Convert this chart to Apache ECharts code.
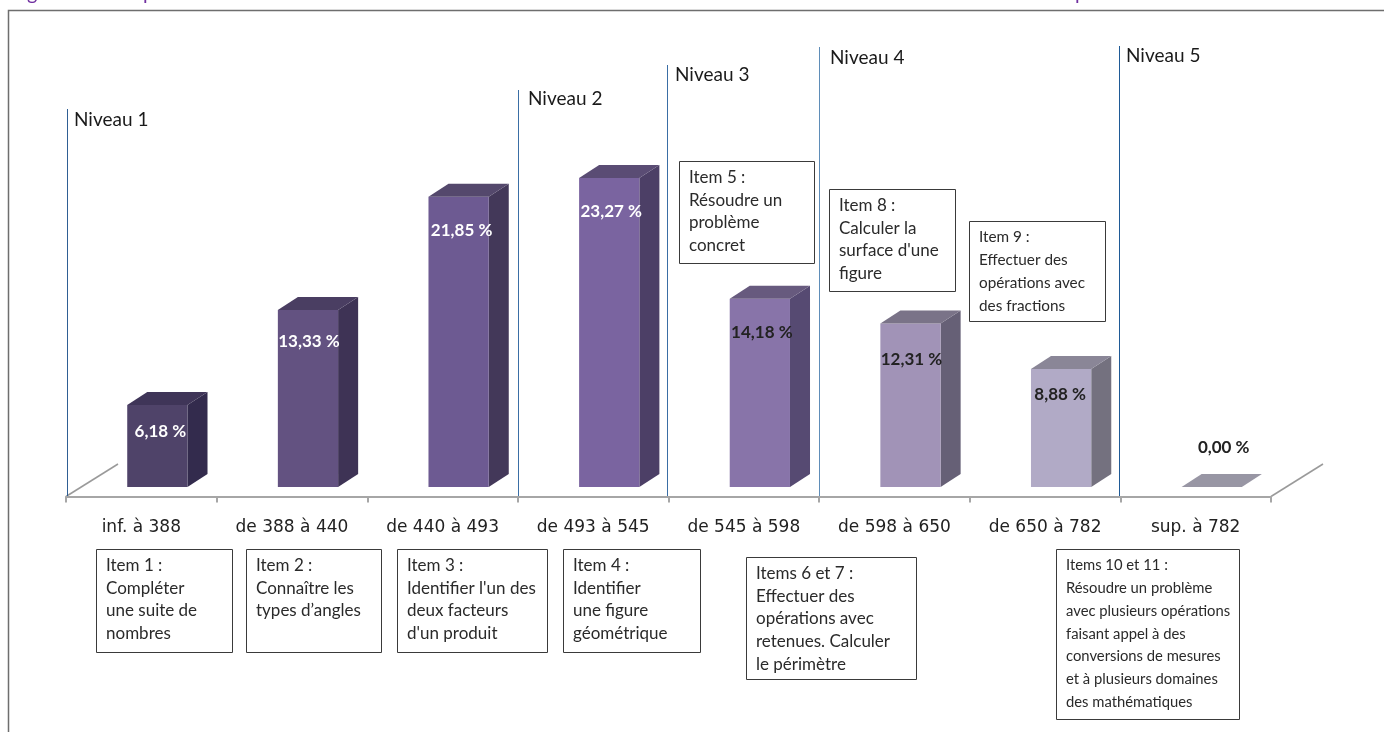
<!DOCTYPE html>
<html><head><meta charset="utf-8">
<style>html,body{margin:0;padding:0;background:#fff;overflow:hidden}#c{width:1384px;height:732px}</style>
<script src="https://cdn.jsdelivr.net/npm/echarts@6/dist/echarts.min.js"></script>
</head><body><div id="c"></div>
<script>
const categories = ['inf. à 388','de 388 à 440','de 440 à 493','de 493 à 545','de 545 à 598','de 598 à 650','de 650 à 782','sup. à 782'];
const values = [6.18,13.33,21.85,23.27,14.18,12.31,8.88,0];
const valueLabels = ['6,18 %','13,33 %','21,85 %','23,27 %','14,18 %','12,31 %','8,88 %','0,00 %'];
const frontColors = ['#4f4369','#635281','#6d5a92','#7a64a0','#8874a9','#a193b7','#b1aac6','#9896a4'];
const sideColors = ['#332b4d','#3e3355','#433859','#4c3f66','#564a72','#666076','#74717f','#9896a4'];
const topColors = ['#3f3558','#4a3e62','#54486c','#5a4c74','#675a7e','#7a7388','#8a8697','#9896a4'];
const labelColors = ['#fff','#fff','#fff','#fff','#222','#222','#222','#222'];
const labelDy = [27,32,34,34,34,36,25,-39];
const labelDx = [3,1,3,2,2,1,-1,12];
const levels = ['Niveau 1','Niveau 2','Niveau 3','Niveau 4','Niveau 5'];
const levelX = [67.5,518.5,667.5,819.5,1119.5];
const levelTop = [109,90,65,47,46];
const levelColors = ['#2f5f94','#3a6ea5','#3a6ea5','#5f8db8','#1f5a96'];
const levelTextX = [74,528,675,830,1126];
const levelTextY = [120,99,75,58,56];
const items = [
 ['Item 1 :','Compléter','une suite de','nombres'],
 ['Item 2 :','Connaître les','types d’angles'],
 ['Item 3 :','Identifier l\'un des','deux facteurs','d\'un produit'],
 ['Item 4 :','Identifier','une figure','géométrique'],
 ['Item 5 :','Résoudre un','problème','concret'],
 ['Items 6 et 7 :','Effectuer des','opérations avec','retenues. Calculer','le périmètre'],
 ['Item 8 :','Calculer la','surface d\'une','figure'],
 ['Item 9 :','Effectuer des','opérations avec','des fractions'],
 ['Items 10 et 11 :','Résoudre un problème','avec plusieurs opérations','faisant appel à des','conversions de mesures','et à plusieurs domaines','des mathématiques']
];
const itemBoxes = [[96,549,136,103],[246,549,135,103],[397,549,150,103],[563,549,137,103],[679,161,135,102],[746,557,170,122],[829,189,126,102],[969,221,136,100],[1056,549,183,170]];
const itemFontSizes = [17,17,17,17,17,17,17,15.3,14.8];

const chart = echarts.init(document.getElementById('c'),null,{renderer:'canvas'});
const FONT='Lato';
const graphic=[];
graphic.push({type:'polyline',shape:{points:[[8.5,732],[8.5,10.5],[1384,10.5]]},style:{stroke:'#6e6e6e',lineWidth:1.5,fill:null},silent:true});
[['g',27,-16],['p',143,-16],['p',1075,-16]].forEach(t=>graphic.push({type:'text',x:t[1],y:t[2],style:{text:t[0],fill:'#7030a0',font:'20px '+FONT},silent:true}));
graphic.push({type:'polyline',shape:{points:[[66,496.5],[118,464]]},style:{stroke:'#9a9a9a',lineWidth:1.5,fill:null},silent:true});
graphic.push({type:'polyline',shape:{points:[[1271,496.5],[1323,464]]},style:{stroke:'#9a9a9a',lineWidth:1.5,fill:null},silent:true});
levels.forEach((t,i)=>{
  graphic.push({type:'line',shape:{x1:levelX[i],y1:levelTop[i],x2:levelX[i],y2:497},style:{stroke:levelColors[i],lineWidth:1},silent:true});
  graphic.push({type:'text',x:levelTextX[i],y:levelTextY[i],style:{text:t,fill:'#1a1a1a',font:'19px '+FONT,textVerticalAlign:'middle',textBaseline:'middle'},silent:true});
});
items.forEach((lines,i)=>{
  const b=itemBoxes[i];
  graphic.push({type:'rect',shape:{x:b[0]+.5,y:b[1]+.5,width:b[2],height:b[3]},style:{fill:'#fff',stroke:'#3a3a3a',lineWidth:1},silent:true});
  graphic.push({type:'text',x:b[0]+10,y:b[1]+5,style:{text:lines.join('\n'),fill:'#2a2a2a',font:itemFontSizes[i]+'px '+FONT,lineHeight:22.8},silent:true});
});

function renderBar(params,api){
  const i=api.value(0);
  const base=api.coord([i,0]), top=api.coord([i,api.value(1)]);
  const band=api.size([1,0])[0];
  const w=band*0.4, dx=band*0.133, ox=band*0.1065, dy=13;
  const x0=base[0]+ox-w/2, x1=x0+w, yb=base[1], yt=top[1];
  const kids=[];
  if(values[i]>0){
    kids.push({type:'polygon',shape:{points:[[x1,yb],[x1+dx,yb-dy],[x1+dx,yt-dy],[x1,yt]]},style:{fill:sideColors[i]}});
    kids.push({type:'rect',shape:{x:x0,y:yt,width:w,height:yb-yt},style:{fill:frontColors[i]}});
  }
  kids.push({type:'polygon',shape:{points:[[x0,yt],[x1,yt],[x1+dx,yt-dy],[x0+dx,yt-dy]]},style:{fill:topColors[i]}});
  kids.push({type:'text',x:x0+w/2+labelDx[i],y:yt+labelDy[i],style:{text:valueLabels[i],fill:labelColors[i],font:'bold 17px '+FONT,textAlign:'center',textVerticalAlign:'middle'}});
  return {type:'group',children:kids};
}
chart.setOption({
  animation:false,
  backgroundColor:'#fff',
  grid:{left:66,width:1205,top:155,bottom:245,containLabel:false},
  xAxis:{type:'category',data:categories,offset:9.5,boundaryGap:true,
    axisLine:{show:true,onZero:false,lineStyle:{color:'#a6a6a6',width:2}},
    axisTick:{show:true,length:6,alignWithLabel:false,lineStyle:{color:'#a6a6a6',width:2}},
    axisLabel:{interval:0,margin:23,color:'#222',fontFamily:'DejaVu Sans',fontSize:17},splitLine:{show:false}},
  yAxis:{type:'value',min:0,max:25,show:false,splitLine:{show:false}},
  series:[{type:'custom',renderItem:renderBar,clip:false,silent:true,encode:{x:0,y:1},z:5,
    data:values.map((v,i)=>[i,v])}],
  graphic:graphic
});
</script></body></html>
